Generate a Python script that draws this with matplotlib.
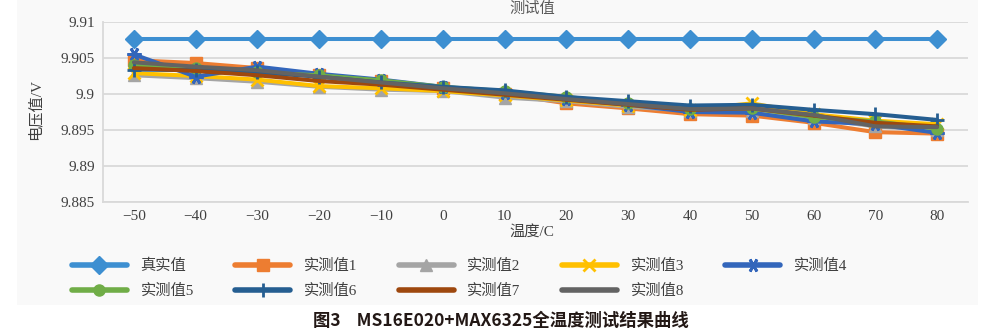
import numpy as np
import matplotlib
matplotlib.use("Agg")
import matplotlib.pyplot as plt
from matplotlib.patches import Rectangle

# temperature points (C)
temps = ["−50", "−40", "−30", "−20", "−10", "0", "10", "20", "30", "40", "50", "60", "70", "80"]

# reference value and eight measured runs (V)
true_val = [9.9076] * 14
meas1 = [9.9047, 9.9043, 9.9036, 9.9026, 9.9018, 9.9008, 9.9000, 9.8987, 9.8980, 9.8972, 9.8970, 9.8960, 9.8947, 9.8945]
meas2 = [9.9026, 9.9022, 9.9017, 9.9010, 9.9006, 9.9004, 9.8995, 9.8990, 9.8982, 9.8977, 9.8976, 9.8966, 9.8955, 9.8950]
meas3 = [9.9029, 9.9025, 9.9020, 9.9011, 9.9008, 9.9004, 9.8998, 9.8991, 9.8984, 9.8978, 9.8987, 9.8972, 9.8963, 9.8958]
meas4 = [9.9055, 9.9024, 9.9038, 9.9028, 9.9020, 9.9010, 9.9002, 9.8993, 9.8985, 9.8975, 9.8974, 9.8962, 9.8958, 9.8946]
meas5 = [9.9040, 9.9036, 9.9030, 9.9026, 9.9019, 9.9010, 9.9004, 9.8996, 9.8987, 9.8979, 9.8980, 9.8968, 9.8962, 9.8952]
meas6 = [9.9034, 9.9033, 9.9030, 9.9024, 9.9016, 9.9010, 9.9005, 9.8996, 9.8990, 9.8984, 9.8985, 9.8978, 9.8972, 9.8964]
meas7 = [9.9036, 9.9032, 9.9026, 9.9018, 9.9013, 9.9006, 9.8999, 9.8992, 9.8985, 9.8978, 9.8980, 9.8970, 9.8960, 9.8955]
meas8 = [9.9044, 9.9038, 9.9033, 9.9024, 9.9016, 9.9008, 9.9001, 9.8993, 9.8986, 9.8979, 9.8980, 9.8971, 9.8955, 9.8954]

series_names = ["真实值", "实测值1", "实测值2", "实测值3", "实测值4",
                "实测值5", "实测值6", "实测值7", "实测值8"]

y_ticks = [9.885, 9.89, 9.895, 9.9, 9.905, 9.91]
y_ticklabels = ["9.885", "9.89", "9.895", "9.9", "9.905", "9.91"]

# office-style palette, one style per series
styles = [
    dict(color="#3d8fd1", marker="D", ms=9),
    dict(color="#ed7d31", marker="s", ms=8),
    dict(color="#a5a5a5", marker="^", ms=9),
    dict(color="#ffc000", marker="x", ms=8, mew=2),
    dict(color="#3366bb", marker=(6, 2, 90), ms=10, mew=2),
    dict(color="#70ad47", marker="o", ms=8),
    dict(color="#255e91", marker="+", ms=10, mew=2),
    dict(color="#9e480e", marker="None"),
    dict(color="#636363", marker="None"),
]

serif = ["Liberation Serif", "Noto Sans CJK SC"]
txt_col = "#404040"
bg = "#f9f9f9"

W, H = 984, 332
fig = plt.figure(figsize=(W / 100, H / 100), dpi=100)
fig.patch.set_facecolor("white")
fig.patches.append(Rectangle((17 / W, 1 - 305 / H), (978 - 17) / W, 305 / H,
                             transform=fig.transFigure, facecolor=bg,
                             edgecolor="none", zorder=-5))

ax = fig.add_axes([103 / W, 1 - 202 / H, (968 - 103) / W, (202 - 22) / H])
ax.set_zorder(2)
ax.set_facecolor(bg)

x = np.arange(len(temps))
all_series = [true_val, meas1, meas2, meas3, meas4, meas5, meas6, meas7, meas8]
handles = []
for vals, name, st in zip(all_series, series_names, styles):
    ln, = ax.plot(x, vals, lw=2.9, label=name, solid_capstyle="round",
                  markeredgecolor=st["color"], **st)
    handles.append(ln)

ax.set_xlim(-0.5, len(temps) - 0.5)
ax.set_ylim(9.885, 9.91)
ax.set_xticks(x)
ax.set_xticklabels(temps, fontsize=11, family=serif, color=txt_col)
ax.set_yticks(y_ticks)
ax.set_yticklabels(y_ticklabels, fontsize=11, family=serif, color=txt_col)
ax.tick_params(length=0, pad=6)
ax.grid(axis="y", color="#d9d9d9", lw=1.3)
ax.set_axisbelow(True)
for s in ["top", "right"]:
    ax.spines[s].set_visible(False)
for s in ["left", "bottom"]:
    ax.spines[s].set_color("#d9d9d9")
    ax.spines[s].set_linewidth(1.3)

fig.text(35 / W, 1 - 110 / H, "电压值/V", rotation=90, ha="center", va="center",
         fontsize=11, family=serif, color=txt_col)
fig.text(532 / W, 1 - 232 / H, "温度/C", ha="center", va="center",
         fontsize=11, family=serif, color=txt_col)
fig.text(532 / W, 1 - 9 / H, "测试值", ha="center", va="center",
         fontsize=11, family=serif, color="#595959")

# row-major legend: reorder for matplotlib's column filling
order = [0, 5, 1, 6, 2, 7, 3, 8, 4]
leg = fig.legend([handles[i] for i in order], [series_names[i] for i in order],
                 ncol=5, loc="upper left", bbox_to_anchor=(58 / W, 1 - 245 / H),
                 frameon=False, handlelength=3.6, handletextpad=0.9,
                 columnspacing=2.7, labelspacing=0.7,
                 prop=dict(family=serif, size=11))
for t in leg.get_texts():
    t.set_color(txt_col)
for lh in leg.get_lines():
    lh.set_linewidth(4)

fig.text(501 / W, 1 - 321 / H, "图3    MS16E020+MAX6325全温度测试结果曲线",
         ha="center", va="center", fontsize=12.5, fontweight="bold",
         family=["Noto Sans CJK SC", "DejaVu Sans"], color="#231815")

fig.savefig("out.png", dpi=100)
